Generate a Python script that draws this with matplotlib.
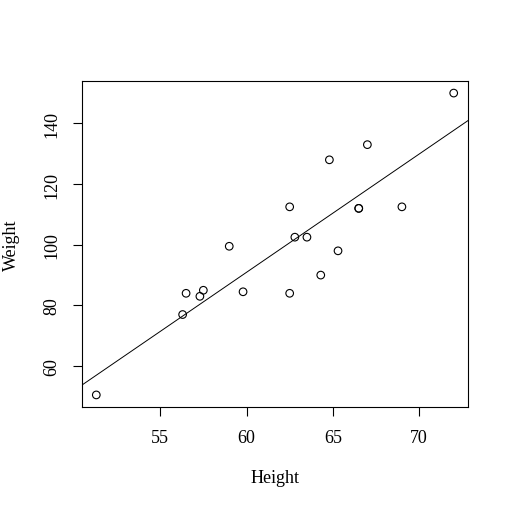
import numpy as np
import matplotlib
matplotlib.use('Agg')
import matplotlib.pyplot as plt

# class data: height (in) and weight (lb)
height = [69.0, 56.5, 65.3, 62.8, 63.5, 57.3, 59.8, 62.5, 62.5, 59.0,
          51.3, 64.3, 56.3, 66.5, 72.0, 64.8, 67.0, 57.5, 66.5]
weight = [112.5, 84.0, 98.0, 102.5, 102.5, 83.0, 84.5, 112.5, 84.0, 99.5,
          50.5, 90.0, 77.0, 112.0, 150.0, 128.0, 133.0, 85.0, 112.0]
xticks = [55, 60, 65, 70]
yticks = [60, 80, 100, 120, 140]

plt.rcParams['font.family'] = ['Liberation Serif', 'DejaVu Serif']
plt.rcParams['font.size'] = 13

fig = plt.figure(figsize=(5.11, 5.10), dpi=100)
ax = fig.add_axes([82/511, 102/510, 386/511, 326/510])

ax.scatter(height, weight, s=30, facecolors='none', edgecolors='black', linewidths=0.8)

# least squares line, drawn across the whole plot (like abline)
b, a = np.polyfit(height, weight, 1)
x0, x1 = min(height), max(height)
dx = (x1 - x0) * 0.04
dy = (max(weight) - min(weight)) * 0.04
ax.set_xlim(x0 - dx, x1 + dx)
ax.set_ylim(min(weight) - dy, max(weight) + dy)
xs = np.array(ax.get_xlim())
ax.plot(xs, a + b * xs, color='black', lw=0.7)

ax.set_xticks(xticks)
ax.set_yticks(yticks)
ax.set_yticklabels([str(t) for t in yticks], rotation=90, va='center')
ax.tick_params(direction='out', length=6.5, width=0.8, pad=9)
for s in ax.spines.values():
    s.set_linewidth(0.8)

ax.set_xlabel('Height', labelpad=17)
ax.set_ylabel('Weight', labelpad=17)

fig.savefig('out.png', dpi=100)
